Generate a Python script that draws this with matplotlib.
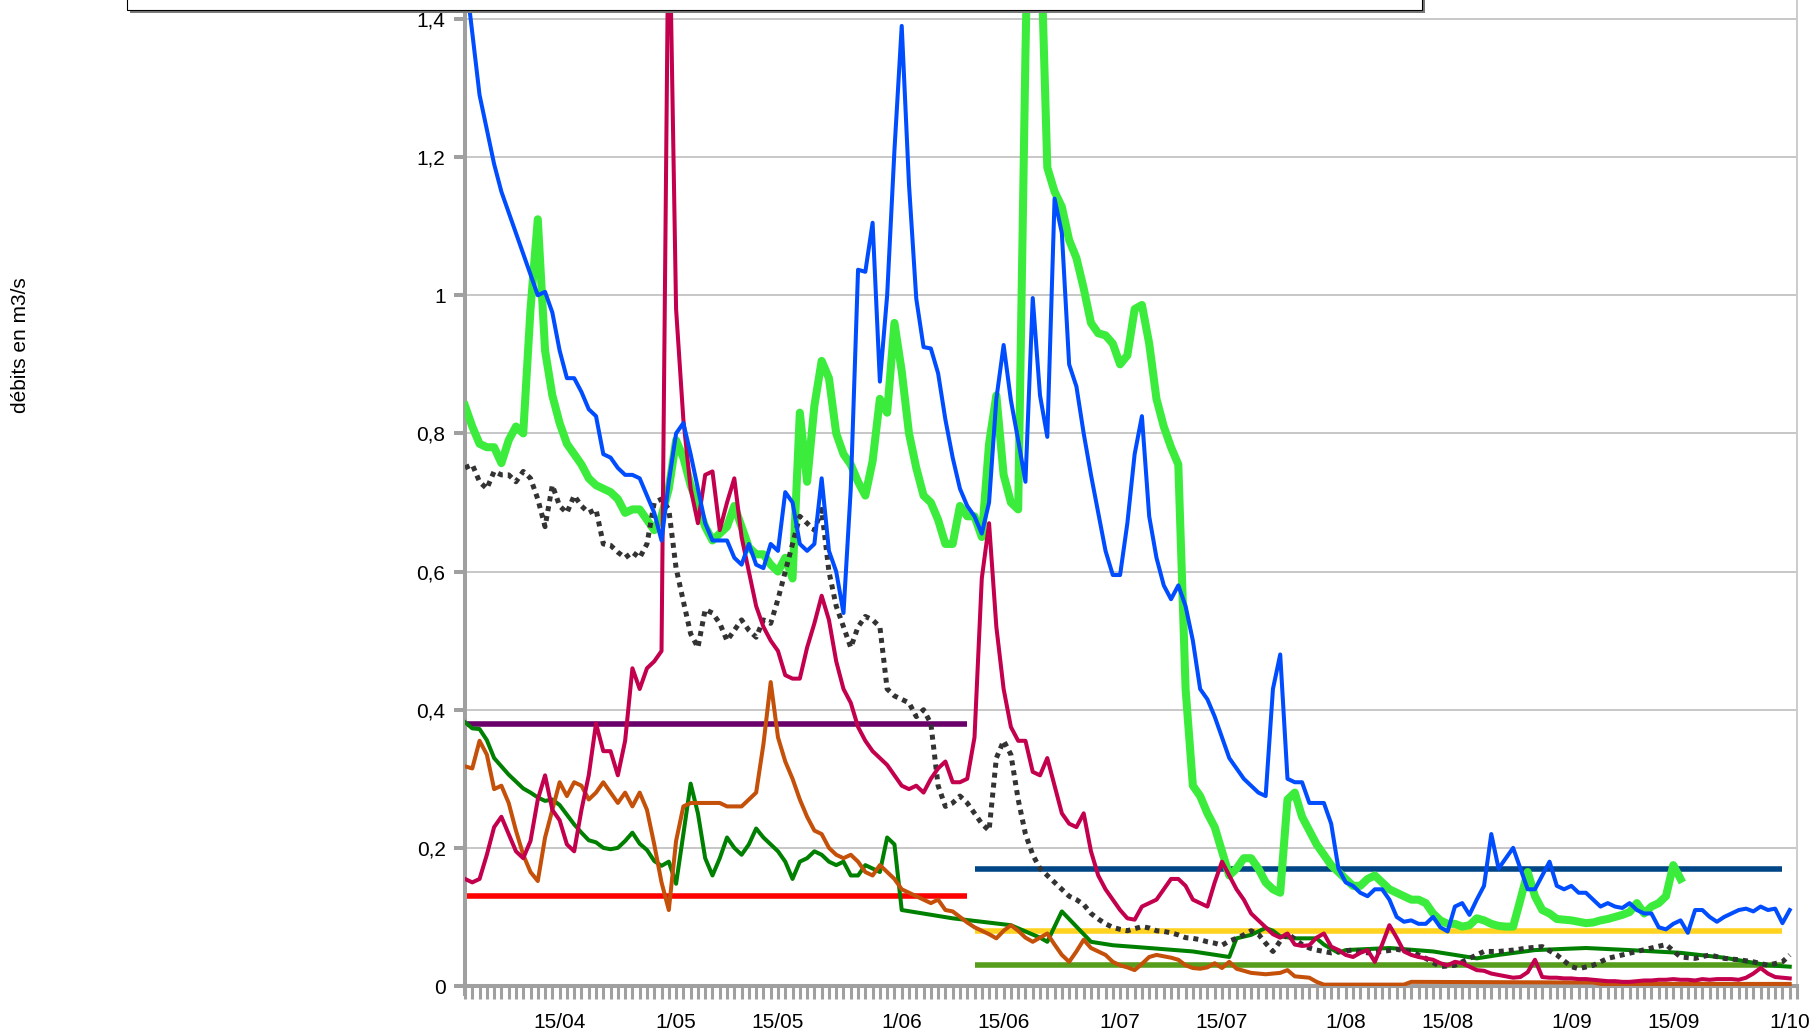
import datetime as dt
import matplotlib
matplotlib.use("Agg")
import matplotlib.pyplot as plt
from matplotlib.patches import Rectangle

W, H = 1813, 1034
plt.rcParams['font.family'] = ['Liberation Sans', 'DejaVu Sans']

# day 0 of the x axis is 2 April; values are flows in m3/s
START = dt.date(2021, 4, 2)
x_labels = ['15/04', '1/05', '15/05', '1/06', '15/06', '1/07', '15/07',
            '1/08', '15/08', '1/09', '15/09', '1/10']
label_dates = [(4, 15), (5, 1), (5, 15), (6, 1), (6, 15), (7, 1), (7, 15),
               (8, 1), (8, 15), (9, 1), (9, 15), (10, 1)]
y_ticks = [0, 0.2, 0.4, 0.6, 0.8, 1.0, 1.2, 1.4]
y_labels = ['0', '0,2', '0,4', '0,6', '0,8', '1', '1,2', '1,4']

# daily series (starting at day 0)
blue = [1.47, 1.38, 1.29, 1.24, 1.19, 1.15, 1.12, 1.09, 1.06, 1.03,
        1.00, 1.005, 0.975, 0.92, 0.88, 0.88, 0.86, 0.835, 0.825, 0.77,
        0.765, 0.75, 0.74, 0.74, 0.735, 0.71, 0.685, 0.645, 0.73, 0.80,
        0.815, 0.77, 0.72, 0.67, 0.645, 0.645, 0.645, 0.62, 0.61, 0.64,
        0.61, 0.605, 0.64, 0.63, 0.715, 0.70, 0.64, 0.63, 0.64, 0.735,
        0.63, 0.60, 0.54, 0.72, 1.037, 1.034, 1.105, 0.875, 1.0, 1.21,
        1.39, 1.16, 0.995, 0.925, 0.923, 0.887, 0.82, 0.765, 0.72, 0.695,
        0.68, 0.655, 0.70, 0.85, 0.928, 0.848, 0.79, 0.73, 0.996, 0.855,
        0.795, 1.14, 1.09, 0.90, 0.868, 0.80, 0.74, 0.685, 0.63, 0.595,
        0.595, 0.67, 0.77, 0.825, 0.68, 0.62, 0.58, 0.56, 0.58, 0.55,
        0.50, 0.43, 0.415, 0.39, 0.36, 0.33, 0.315, 0.30, 0.29, 0.28,
        0.275, 0.43, 0.48, 0.30, 0.295, 0.295, 0.265, 0.265, 0.265, 0.235,
        0.17, 0.15, 0.145, 0.135, 0.13, 0.14, 0.14, 0.125, 0.10, 0.093,
        0.095, 0.09, 0.09, 0.10, 0.085, 0.079, 0.115, 0.12, 0.103, 0.125,
        0.145, 0.22, 0.17, 0.185, 0.20, 0.17, 0.14, 0.14, 0.16, 0.18,
        0.145, 0.14, 0.145, 0.135, 0.135, 0.125, 0.115, 0.12, 0.115, 0.113,
        0.12, 0.11, 0.105, 0.105, 0.085, 0.082, 0.09, 0.095, 0.077, 0.11,
        0.11, 0.10, 0.093, 0.10, 0.105, 0.11, 0.112, 0.108, 0.115, 0.11,
        0.112, 0.091, 0.11]

green = [0.84, 0.81, 0.785, 0.78, 0.78, 0.757, 0.79, 0.81, 0.80, 0.98,
         1.11, 0.92, 0.855, 0.815, 0.785, 0.77, 0.755, 0.735, 0.725, 0.72,
         0.715, 0.705, 0.685, 0.69, 0.69, 0.675, 0.66, 0.68, 0.72, 0.79,
         0.765, 0.725, 0.695, 0.665, 0.645, 0.655, 0.665, 0.695, 0.665, 0.635,
         0.625, 0.625, 0.61, 0.60, 0.62, 0.59, 0.83, 0.73, 0.84, 0.905,
         0.88, 0.80, 0.77, 0.755, 0.73, 0.71, 0.76, 0.85, 0.83, 0.96,
         0.89, 0.80, 0.75, 0.71, 0.70, 0.675, 0.64, 0.64, 0.695, 0.68,
         0.68, 0.65, 0.785, 0.855, 0.74, 0.70, 0.69, 1.35, 1.9, 1.55,
         1.185, 1.15, 1.128, 1.08, 1.054, 1.01, 0.96, 0.945, 0.942, 0.93,
         0.90, 0.913, 0.98, 0.986, 0.93, 0.85, 0.81, 0.78, 0.755, 0.43,
         0.29, 0.275, 0.25, 0.23, 0.195, 0.16, 0.17, 0.185, 0.185, 0.17,
         0.15, 0.14, 0.135, 0.27, 0.28, 0.245, 0.225, 0.205, 0.19, 0.175,
         0.165, 0.155, 0.145, 0.145, 0.155, 0.16, 0.15, 0.14, 0.135, 0.13,
         0.125, 0.125, 0.12, 0.105, 0.095, 0.09, 0.09, 0.086, 0.088, 0.098,
         0.095, 0.09, 0.087, 0.086, 0.086, 0.125, 0.165, 0.13, 0.11, 0.105,
         0.097, 0.096, 0.095, 0.093, 0.091, 0.092, 0.095, 0.097, 0.10, 0.103,
         0.107, 0.12, 0.105, 0.115, 0.12, 0.13, 0.175, 0.155]

crimson = [0.155, 0.15, 0.155, 0.19, 0.23, 0.245, 0.22, 0.195, 0.185, 0.21,
           0.27, 0.305, 0.255, 0.24, 0.205, 0.195, 0.255, 0.305, 0.38, 0.34,
           0.34, 0.305, 0.355, 0.46, 0.43, 0.46, 0.47, 0.485, 1.6, 0.98,
           0.82, 0.72, 0.67, 0.74, 0.745, 0.66, 0.70, 0.735, 0.65, 0.60,
           0.55, 0.52, 0.50, 0.485, 0.45, 0.445, 0.445, 0.49, 0.525, 0.565,
           0.53, 0.47, 0.43, 0.41, 0.375, 0.355, 0.34, 0.33, 0.32, 0.305,
           0.29, 0.285, 0.29, 0.28, 0.30, 0.315, 0.325, 0.295, 0.295, 0.30,
           0.36, 0.59, 0.67, 0.52, 0.43, 0.375, 0.355, 0.355, 0.31, 0.305,
           0.33, 0.29, 0.25, 0.235, 0.23, 0.25, 0.195, 0.16, 0.14, 0.125,
           0.11, 0.098, 0.096, 0.115, 0.12, 0.125, 0.14, 0.155, 0.155, 0.145,
           0.125, 0.12, 0.115, 0.15, 0.18, 0.16, 0.14, 0.125, 0.105, 0.095,
           0.085, 0.075, 0.07, 0.076, 0.06, 0.058, 0.059, 0.07, 0.076, 0.057,
           0.052, 0.045, 0.042, 0.048, 0.052, 0.035, 0.06, 0.088, 0.07, 0.05,
           0.045, 0.042, 0.04, 0.038, 0.033, 0.03, 0.035, 0.033, 0.028, 0.023,
           0.022, 0.018, 0.016, 0.014, 0.012, 0.013, 0.02, 0.038, 0.013, 0.012,
           0.012, 0.011, 0.011, 0.01, 0.01, 0.009, 0.008, 0.007, 0.007, 0.006,
           0.006, 0.007, 0.008, 0.008, 0.009, 0.009, 0.01, 0.009, 0.009, 0.008,
           0.01, 0.009, 0.01, 0.01, 0.01, 0.009, 0.012, 0.018, 0.026, 0.018,
           0.013, 0.012, 0.011]

orange = [0.318, 0.315, 0.355, 0.335, 0.285, 0.29, 0.265, 0.225, 0.19, 0.165,
          0.152, 0.215, 0.255, 0.295, 0.275, 0.295, 0.29, 0.27, 0.28, 0.295,
          0.28, 0.265, 0.28, 0.26, 0.28, 0.255, 0.205, 0.15, 0.11, 0.21,
          0.26, 0.265, 0.265, 0.265, 0.265, 0.265, 0.26, 0.26, 0.26, 0.27,
          0.28, 0.35, 0.44, 0.36, 0.325, 0.30, 0.27, 0.245, 0.225, 0.22,
          0.20, 0.19, 0.185, 0.19, 0.18, 0.165, 0.16, 0.175, 0.165, 0.155,
          0.14, 0.135, 0.13, 0.125, 0.12, 0.125, 0.11, 0.108, 0.10, 0.092,
          0.085, 0.08, 0.075, 0.069, 0.08, 0.088, 0.08, 0.07, 0.064, 0.07,
          0.076, 0.06, 0.045, 0.035, 0.05, 0.067, 0.055, 0.05, 0.045, 0.035,
          0.03, 0.027, 0.023, 0.032, 0.042, 0.045, 0.043, 0.041, 0.038, 0.03,
          0.026, 0.025, 0.027, 0.033, 0.026, 0.035, 0.025, 0.022, 0.019, 0.018,
          0.017, 0.018, 0.019, 0.023, 0.014, 0.013, 0.012, 0.006, 0.002]
orange_tail_days = [129, 130, 155, 156, 182]
orange_tail = [0.002, 0.006, 0.005, 0.003, 0.003]

dotted = [0.75, 0.755, 0.73, 0.72, 0.745, 0.74, 0.74, 0.73, 0.745, 0.735,
          0.705, 0.665, 0.725, 0.695, 0.685, 0.71, 0.695, 0.685, 0.69, 0.64,
          0.638, 0.628, 0.62, 0.628, 0.62, 0.64, 0.70, 0.705, 0.69, 0.605,
          0.557, 0.51, 0.49, 0.545, 0.54, 0.525, 0.50, 0.515, 0.53, 0.515,
          0.505, 0.53, 0.525, 0.56, 0.60, 0.64, 0.68, 0.67, 0.66, 0.69,
          0.60, 0.55, 0.52, 0.49, 0.52, 0.535, 0.53, 0.52, 0.43, 0.42,
          0.415, 0.41, 0.39, 0.40, 0.38, 0.29, 0.26, 0.265, 0.275, 0.265,
          0.25, 0.235, 0.225, 0.33, 0.355, 0.335, 0.27, 0.22, 0.19, 0.17,
          0.16, 0.15, 0.14, 0.13, 0.125, 0.118, 0.105, 0.097, 0.09, 0.085,
          0.082, 0.08, 0.083, 0.086, 0.084, 0.08, 0.079, 0.077, 0.074, 0.07,
          0.069, 0.067, 0.064, 0.062, 0.059, 0.065, 0.069, 0.074, 0.08, 0.075,
          0.062, 0.05, 0.065, 0.076, 0.068, 0.06, 0.055, 0.052, 0.05, 0.048,
          0.05]
dotted_tail_days = [122, 124, 126, 128, 130, 132, 134, 136, 138, 140, 142,
                    144, 146, 148, 150, 152, 153, 155, 157, 159, 161, 163,
                    165, 167, 169, 171, 173, 175, 177, 179, 181, 182]
dotted_tail = [0.052, 0.048, 0.05, 0.053, 0.05, 0.04, 0.028, 0.03, 0.04, 0.05,
               0.05, 0.052, 0.055, 0.057, 0.045, 0.028, 0.025, 0.03, 0.04,
               0.045, 0.05, 0.055, 0.06, 0.042, 0.04, 0.045, 0.04, 0.038,
               0.035, 0.03, 0.035, 0.045]

dgreen = [0.382, 0.373, 0.372, 0.356, 0.33, 0.318, 0.306, 0.296, 0.286, 0.28,
          0.273, 0.268, 0.27, 0.262, 0.248, 0.234, 0.222, 0.211, 0.208, 0.20,
          0.198, 0.20, 0.21, 0.222, 0.206, 0.197, 0.181, 0.174, 0.18, 0.148,
          0.22, 0.293, 0.25, 0.185, 0.16, 0.185, 0.215, 0.20, 0.19, 0.205,
          0.228, 0.215, 0.205, 0.195, 0.18, 0.155, 0.18, 0.185, 0.195, 0.19,
          0.18, 0.175, 0.18, 0.16, 0.16, 0.175, 0.17, 0.165, 0.215, 0.205,
          0.11]
dgreen_tail_days = [67, 75, 79, 80, 82, 86, 89, 94, 100, 105, 106, 108, 110,
                    111, 112, 114, 117, 118, 120, 121, 127, 133, 139, 142,
                    147, 154, 160, 167, 173, 179, 182]
dgreen_tail = [0.098, 0.088, 0.07, 0.064, 0.108, 0.064, 0.059, 0.055, 0.05,
               0.042, 0.069, 0.074, 0.084, 0.08, 0.072, 0.069, 0.069, 0.06,
               0.048, 0.052, 0.055, 0.05, 0.04, 0.045, 0.052, 0.055, 0.052,
               0.048, 0.041, 0.03, 0.028]

# reference flows: level, first day, last day
ref_levels = [0.38, 0.13, 0.17, 0.08, 0.03]
ref_start = [0, 0, 70, 70, 70]
ref_end = [69, 69, 181, 181, 181]
ref_colors = ['#6a006a', '#ff0000', '#004586', '#ffd320', '#579d1c']


def days_of(vals, first=0):
    return list(range(first, first + len(vals)))


fig = plt.figure(figsize=(W / 100, H / 100), dpi=100)
ax = fig.add_axes([465 / W, 48 / H, 1332 / W, 986 / H])

for lvl, a, b, c in zip(ref_levels, ref_start, ref_end, ref_colors):
    ax.plot([a, b], [lvl, lvl], color=c, lw=4.0, solid_capstyle='butt', zorder=2)

ax.plot(days_of(green), green, color='#3cec3c', lw=5.8, zorder=3,
        solid_joinstyle='round')
ax.plot(days_of(dgreen) + dgreen_tail_days, dgreen + dgreen_tail,
        color='#008000', lw=2.9, zorder=4)
ax.plot(days_of(orange) + orange_tail_days, orange + orange_tail,
        color='#c4500a', lw=2.9, zorder=4)
ax.plot(days_of(dotted) + dotted_tail_days, dotted + dotted_tail,
        color='#333333', lw=3.6, ls=(0, (1, 1)), zorder=5)
ax.plot(days_of(crimson), crimson, color='#c3004d', lw=2.9, zorder=6)
ax.plot(days_of(blue), blue, color='#004cff', lw=2.9, zorder=7)

# axes
ax.set_xlim(0, 183)
ax.set_ylim(0, 1.4275)
ax.set_yticks(y_ticks)
ax.set_yticklabels(y_labels)
label_days = [(dt.date(2021, m, d) - START).days for m, d in label_dates]
ax.set_xticks(label_days)
ax.set_xticklabels(x_labels)
ax.set_xticks(range(0, 184), minor=True)
ax.tick_params(axis='x', which='both', length=9.4, width=2.2,
               color='#a0a0a0', pad=10, labelsize=15)
ax.tick_params(axis='y', length=8, width=2.9, color='#a0a0a0', pad=6,
               labelsize=15)
ax.yaxis.grid(True, color='#b8b8b8', lw=1.1)
ax.set_axisbelow(True)
for s in ['left', 'bottom']:
    ax.spines[s].set_color('#a0a0a0')
    ax.spines[s].set_linewidth(2.9)
ax.spines['left'].set_bounds(-0.011, 1.4275)
ax.spines['right'].set_color('#cccccc')
ax.spines['right'].set_linewidth(1.4)
ax.spines['top'].set_visible(False)

fig.text(21 / W, 1 - 345 / H, 'débits en m3/s', rotation=90,
         ha='center', va='center', fontsize=15)

# legend frame, mostly cut off at the top of the picture
shadow = Rectangle(((127 + 3) / W, (H - 13) / H), (1422 - 127) / W, 0.2,
                   transform=fig.transFigure, facecolor='#7a7a7a',
                   edgecolor='none', zorder=10)
box = Rectangle((127 / W, (H - 10) / H), (1422 - 127) / W, 0.2,
                transform=fig.transFigure, facecolor='white',
                edgecolor='black', lw=0.8, zorder=11)
fig.add_artist(shadow)
fig.add_artist(box)

fig.savefig('out.png', dpi=100)
